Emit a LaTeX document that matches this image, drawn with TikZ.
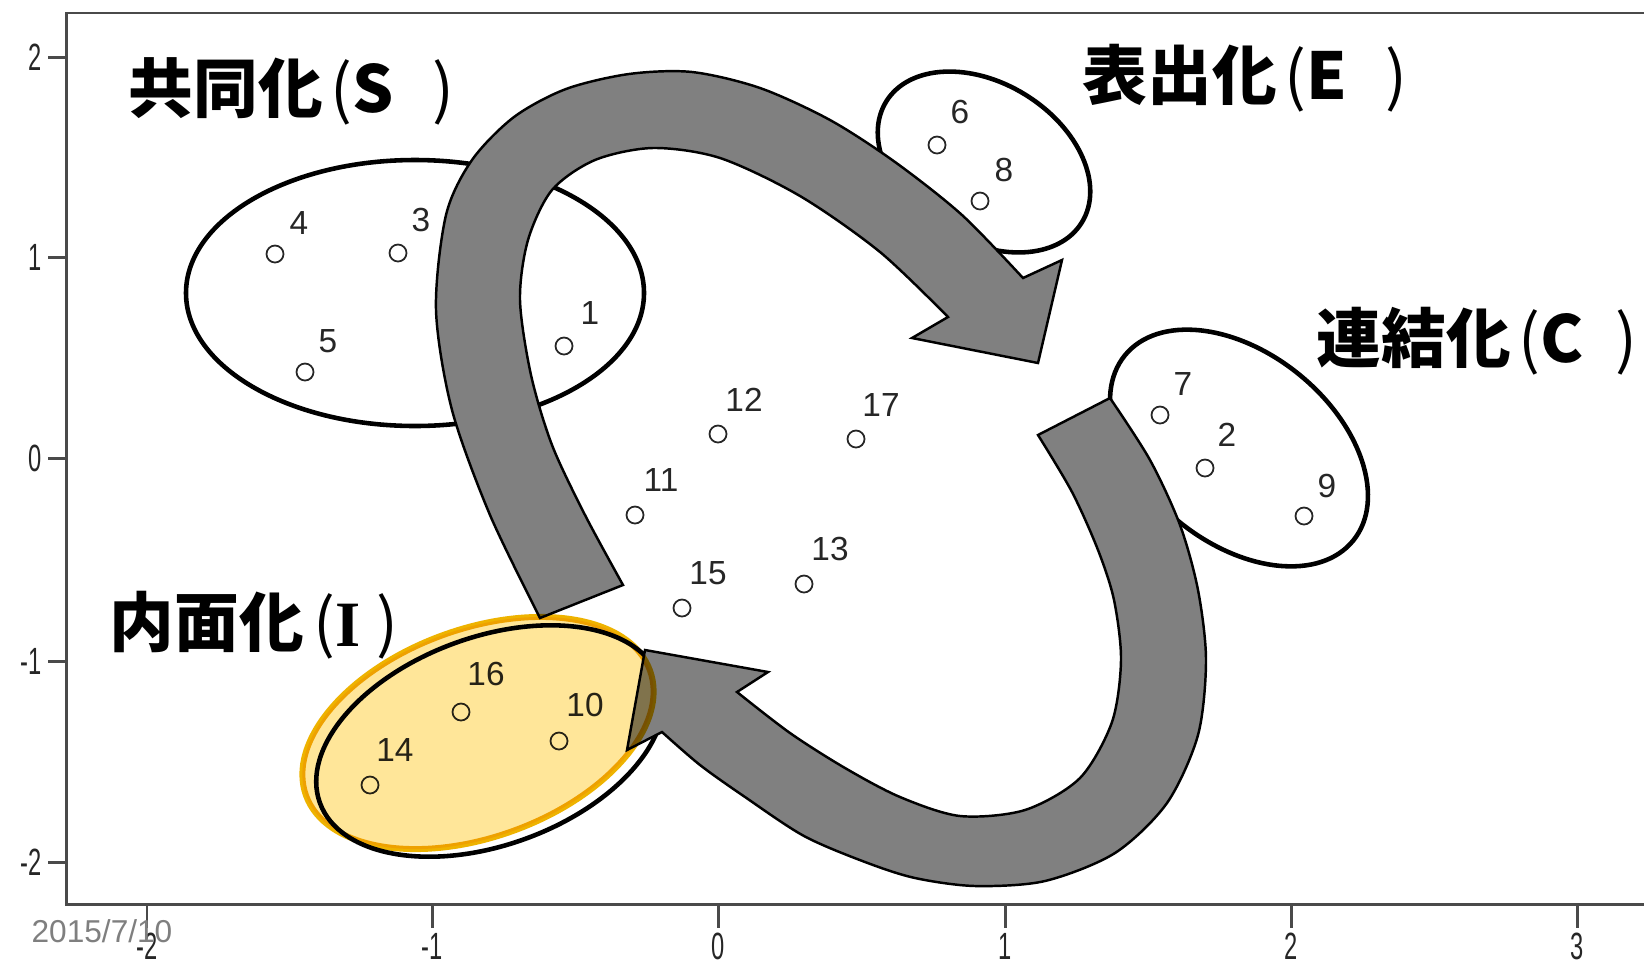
\documentclass[tikz,border=0pt]{standalone}
\usepackage{fontspec}
\setmainfont{Liberation Sans}
\newfontfamily\cjk{Noto Sans CJK JP}
\newfontfamily\serifface{Liberation Serif}

\definecolor{arrowgray}{HTML}{808080}
\definecolor{framegray}{HTML}{4A4A4A}
\definecolor{hlfill}{HTML}{FFE699}
\definecolor{hlborder}{HTML}{EEB300}
\definecolor{dategray}{HTML}{7F7F7F}

\begin{document}
\begin{tikzpicture}[x=0.1mm, y=-0.1mm,
  group/.style={draw=black, line width=1.3pt, fill=white},
  flow/.style={draw=black, line width=0.7pt, fill=arrowgray, line join=miter},
  obs/.style={circle, draw=black!85, line width=0.5pt, minimum size=1.7mm, inner sep=0pt},
  obslabel/.style={font=\fontsize{9.5}{11}\selectfont, inner sep=0pt, text=black!85},
  phase/.style={font=\cjk\bfseries\fontsize{18.4}{20}\selectfont, inner sep=0pt, anchor=west},
  ticklabel/.style={font=\fontsize{9}{10}\selectfont, inner sep=0pt, text=black!85},
  axisline/.style={draw=framegray, line width=0.85pt}
]
\useasboundingbox (0,0) rectangle (1644,963);
\fill[white] (0,0) rectangle (1644,963);

% plot frame
\draw[axisline] (1660,13) -- (66.7,13) -- (66.7,904) -- (1660,904);

% y axis ticks
\foreach \v/\py in {2/57.5, 1/257, 0/458, -1/661, -2/862} {
  \draw[axisline] (48,\py) -- (66.7,\py);
  \node[ticklabel, anchor=east] at (42,\py) {\scalebox{0.75}[1.2]{\v}};
}
% x axis ticks
\foreach \v/\px in {-2/147, -1/432, 0/718, 1/1005, 2/1291, 3/1577} {
  \draw[axisline] (\px,904) -- (\px,928);
  \node[ticklabel] at (\px,946) {\scalebox{0.75}[1.2]{\v}};
}

% groups of observations
\draw[group] (415,293) ellipse [x radius=229, y radius=133];
\draw[group, rotate around={-31.8:(984,162)}] (984,162) ellipse [x radius=115, y radius=79];
\draw[group, rotate around={-39:(1239,448)}] (1239,448) ellipse [x radius=147, y radius=95];
\draw[group, rotate around={20:(490,741)}] (490,741) ellipse [x radius=181, y radius=104];

% observations
\foreach \n/\px/\py/\lx/\ly in {
  1/564/346/590/313, 2/1205/468/1227/435, 3/398/253/421/220,
  4/275/254/299/223, 5/305/372/328/341, 6/937/145/960/112,
  7/1160/415/1183/384, 8/980/201/1004/170, 9/1304/516/1327/486,
  10/559/741/585/705, 11/635/515/661/480, 12/718/434/744/400,
  13/804/584/830/549, 14/370/785/395/750, 15/682/608/708/573,
  16/461/712/486/674, 17/856/439/881/405} {
  \node[obs] (p\n) at (\px,\py) {};
  \node[obslabel] (l\n) at (\lx,\ly) {\n};
}

% socialization -> externalization -> combination
\draw[flow]
  plot[smooth] coordinates {(540,618) (490,515) (452,410) (436,310)
     (446,215) (472,160) (514,117) (566,89) (629,74) (692,72) (760,88)
     (830,120) (895,162) (962,215) (1023,278)}
  -- (1062,260) -- (1038,363) -- (912,338) -- (948,317)
  -- plot[smooth] coordinates {(948,317) (880,252) (800,196) (720,158)
     (653,148) (595,160) (552,190) (528,240) (520,300) (531,375) (552,445)
     (585,515) (623,585)}
  -- cycle;

% combination -> internalization
\draw[flow]
  plot[smooth] coordinates {(1110,398) (1150,460) (1180,525) (1198,590)
     (1206,660) (1198,735) (1167,803) (1115,853) (1045,881) (975,886)
     (915,878) (865,862) (804,836) (745,797) (700,765) (662,732)}
  -- (627,750) -- (645,650) -- (768,672) -- (737,692)
  -- plot[smooth] coordinates {(737,692) (790,733) (845,768) (900,797)
     (960,816) (1025,810) (1080,778) (1112,722) (1121,660) (1114,600)
     (1098,550) (1072,492) (1038,435)}
  -- cycle;

% highlighted internalization group
\begin{scope}[blend mode=multiply]
  \draw[draw=hlborder, line width=1.7pt, fill=hlfill, rotate around={20:(478,733)}]
    (478,733) ellipse [x radius=183, y radius=104];
\end{scope}

% phase titles
\node[phase] (tS) at (128,91)  {共同化\kern0.12em{\mdseries(}S\kern0.6em{\mdseries)}};
\node[phase] (tE) at (1082,78) {表出化\kern0.12em{\mdseries(}E\kern0.6em{\mdseries)}};
\node[phase] (tC) at (1316,341) {連結化\kern0.12em{\mdseries(}C\kern0.5em{\mdseries)}};
\node[phase] (tI) at (109,625) {内面化\kern0.15em{\mdseries(}{\serifface\bfseries I}\kern0.25em{\mdseries)}};

% date stamp
\node[font=\fontsize{9}{10}\selectfont, text=dategray, inner sep=0pt] (date) at (102,931) {2015/7/10};
\end{tikzpicture}
\end{document}
